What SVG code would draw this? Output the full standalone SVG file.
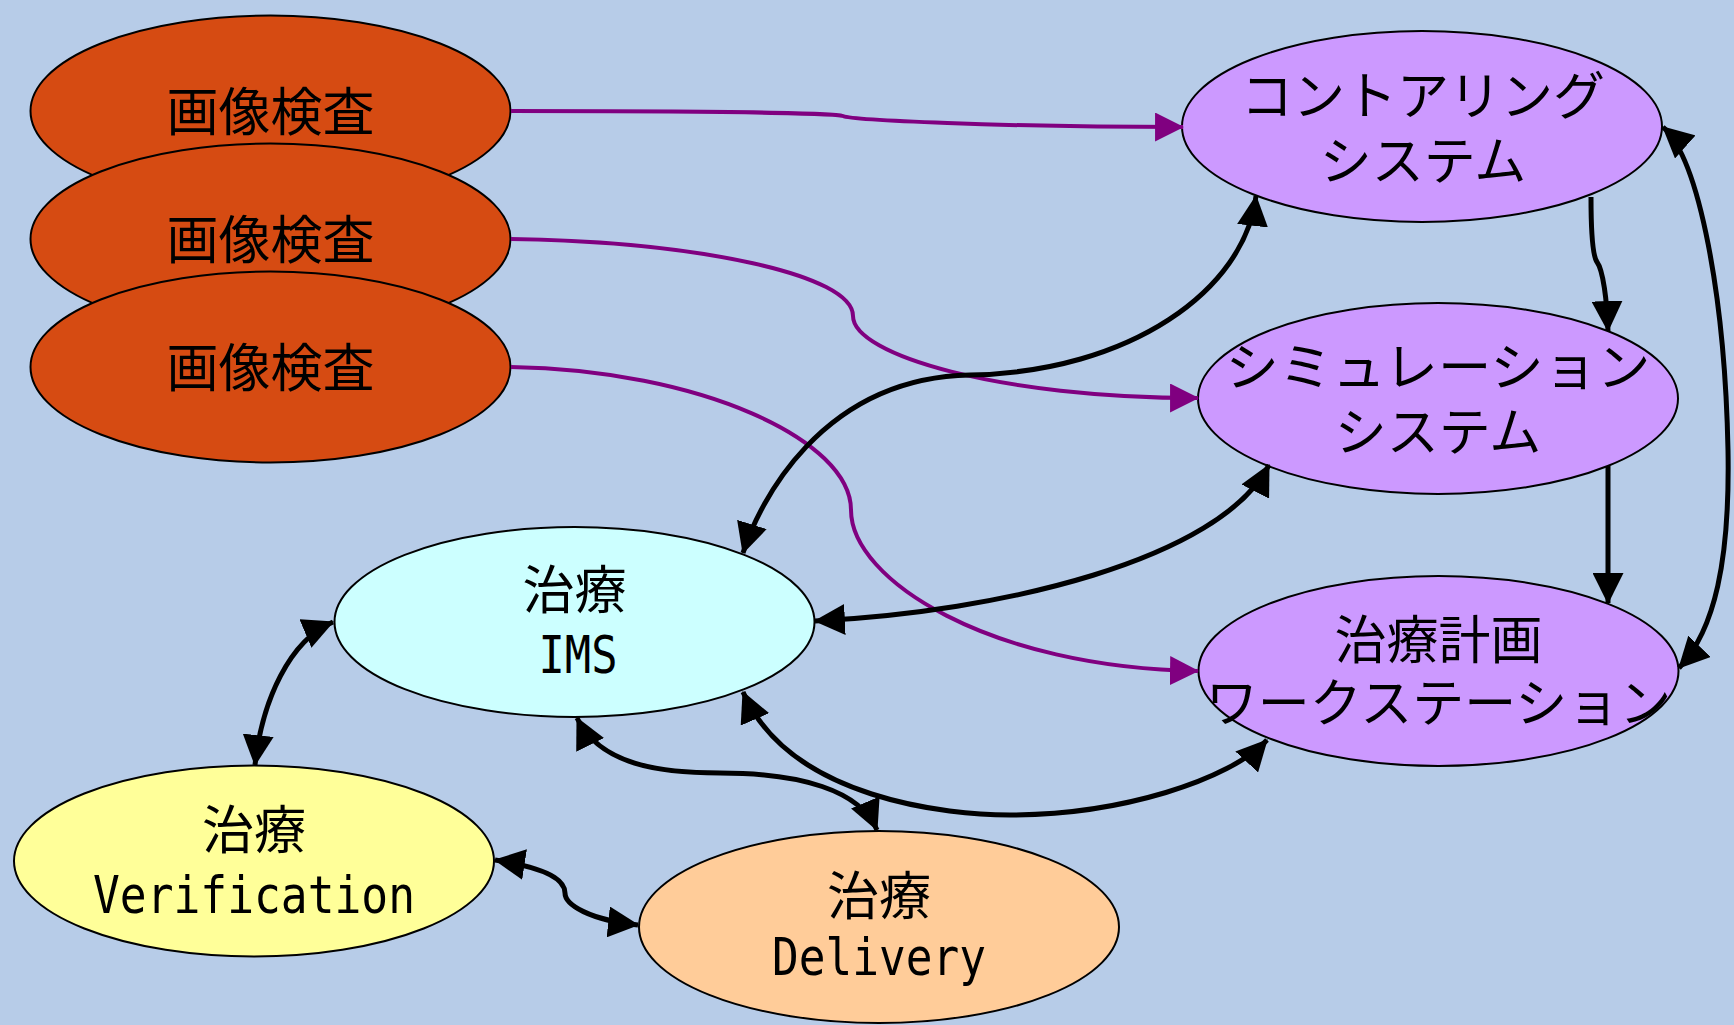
<svg xmlns="http://www.w3.org/2000/svg" width="1734" height="1025" viewBox="0 0 1734 1025">
<style>
.node{stroke:#000;stroke-width:2}
.img{fill:#d64b12}
.pur{fill:#cc99ff}
.jp{font-family:"Noto Sans CJK JP","Noto Sans CJK SC",sans-serif;font-size:52px;fill:#000;text-anchor:middle}
.en{font-family:"DejaVu Sans Mono","Liberation Mono",monospace;font-size:52px;fill:#000;text-anchor:middle}
.pc{fill:none;stroke:#800080;stroke-width:4;marker-end:url(#ap)}
.bc{fill:none;stroke:#000;stroke-width:5}
.bi{marker-start:url(#ab);marker-end:url(#ab)}
.one{marker-end:url(#ab)}
</style>
<defs>
<marker id="ap" markerUnits="userSpaceOnUse" viewBox="0 0 28 28" markerWidth="29" markerHeight="29" refX="27" refY="14" orient="auto-start-reverse"><path d="M0,0 L28,14 L0,28 z" fill="#800080"/></marker>
<marker id="ab" markerUnits="userSpaceOnUse" viewBox="0 0 28 28" markerWidth="31" markerHeight="31" refX="27" refY="14" orient="auto-start-reverse"><path d="M0,0 L28,14 L0,28 z" fill="#000"/></marker>
</defs>
<rect width="1734" height="1025" fill="#b7cce8"/>
<g id="img1"><ellipse class="node img" cx="270.5" cy="111" rx="240" ry="95.5"/><text class="jp" x="270.5" y="131">画像検査</text></g>
<g id="img2"><ellipse class="node img" cx="270.5" cy="239" rx="240" ry="95.5"/><text class="jp" x="270.5" y="259">画像検査</text></g>
<g id="img3"><ellipse class="node img" cx="270.5" cy="367" rx="240" ry="95.5"/><text class="jp" x="270.5" y="387">画像検査</text></g>
<g id="contour"><ellipse class="node pur" cx="1422" cy="126.5" rx="240" ry="95.5"/><text class="jp" x="1423" y="114.5">コントアリング</text><text class="jp" x="1423" y="179.5">システム</text></g>
<g id="sim"><ellipse class="node pur" cx="1438" cy="398.5" rx="240" ry="95.5"/><text class="jp" x="1438" y="386" textLength="425" lengthAdjust="spacingAndGlyphs">シミュレーション</text><text class="jp" x="1438" y="451">システム</text></g>
<g id="plan"><ellipse class="node pur" cx="1438.5" cy="671" rx="240" ry="95"/><text class="jp" x="1438.5" y="659">治療計画</text><text class="jp" x="1438.5" y="722">ワークステーション</text></g>
<g id="ims"><ellipse class="node" fill="#ccffff" cx="574.5" cy="622" rx="240" ry="95"/><text class="jp" x="574.5" y="609">治療</text><text class="en" x="578" y="673" textLength="79" lengthAdjust="spacingAndGlyphs">IMS</text></g>
<g id="verif"><ellipse class="node" fill="#ffff99" cx="254" cy="861" rx="240" ry="95.5"/><text class="jp" x="254" y="849">治療</text><text class="en" x="254" y="913" textLength="322" lengthAdjust="spacingAndGlyphs">Verification</text></g>
<g id="deliv"><ellipse class="node" fill="#ffcc99" cx="879" cy="927" rx="240" ry="96"/><text class="jp" x="879" y="915">治療</text><text class="en" x="879" y="975" textLength="214" lengthAdjust="spacingAndGlyphs">Delivery</text></g>
<g id="connectors">
<path class="pc" d="M511,111 C700,111 835,113 843,116 C851,120 1000,127 1183,127"/>
<path class="pc" d="M511,239 C700,242 853,275 853,316 C853,355 1000,398 1198,398"/>
<path class="pc" d="M511,367 C700,370 851,440 851,510 C851,580 990,668 1198,671"/>
<path class="bc bi" d="M743,553 C758,505 820,378 970,375 C1130,372 1245,290 1256,196"/>
<path class="bc bi" d="M815,621 C1000,612 1220,560 1269,465"/>
<path class="bc bi" d="M743,692 C790,800 950,815 1010,815 C1120,815 1230,780 1267,740"/>
<path class="bc bi" d="M577,718 C600,765 660,773 720,773 C800,773 860,790 877,830"/>
<path class="bc bi" d="M333,622 C290,640 262,700 255,765"/>
<path class="bc bi" d="M495,860 C560,870 565,885 565,893 C565,905 590,920 638,925"/>
<path class="bc one" d="M1591,197 C1591,230 1592,255 1597,262 C1603,270 1607,300 1608,331"/>
<path class="bc one" d="M1608,466 L1608,603"/>
<path class="bc bi" d="M1663,127 C1700,160 1725,300 1728,450 C1730,560 1715,630 1679,668"/>
</g>
</svg>
